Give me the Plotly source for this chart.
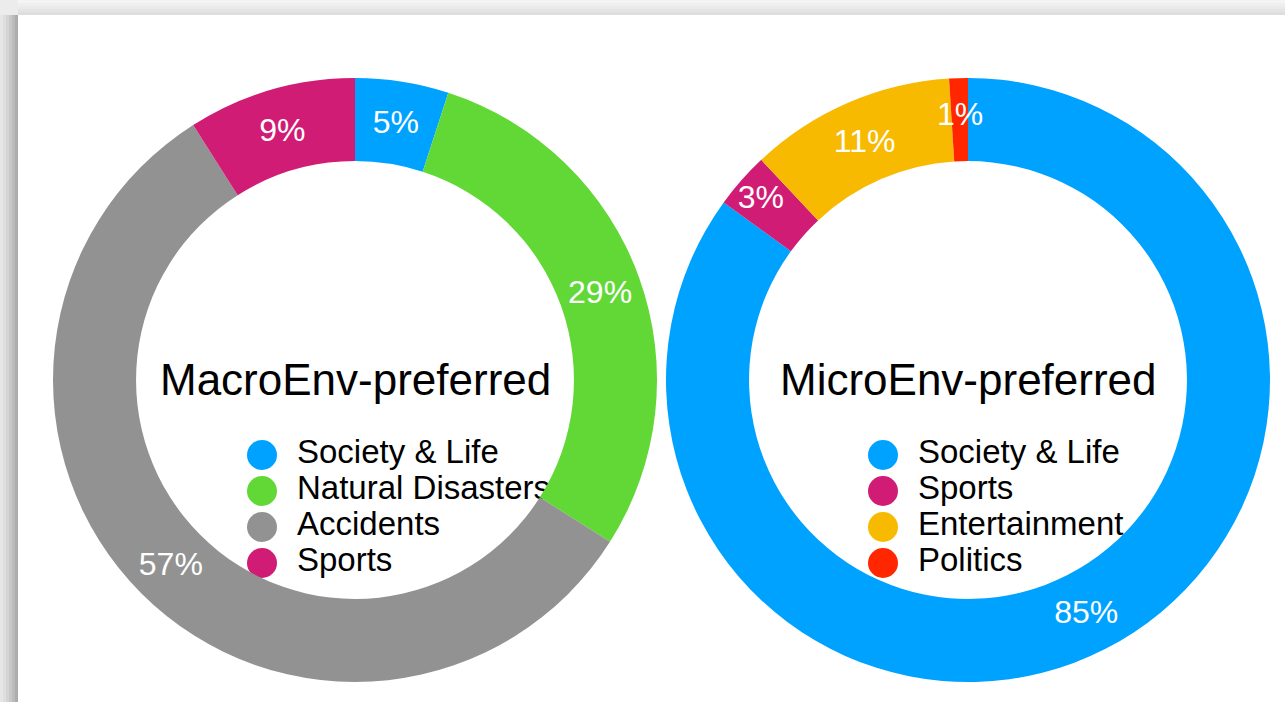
import math
import plotly.graph_objects as go

# ---- data ----
macro_labels = ["Society & Life", "Natural Disasters", "Accidents", "Sports"]
macro_values = [5, 29, 57, 9]
macro_colors = ["#00A2FF", "#61D836", "#929292", "#D01C74"]
macro_title = "MacroEnv-preferred"

micro_labels = ["Society & Life", "Sports", "Entertainment", "Politics"]
micro_values = [85, 3, 11, 1]
micro_colors = ["#00A2FF", "#D01C74", "#F8BA00", "#FF2600"]
micro_title = "MicroEnv-preferred"

W, H = 1285, 702
FONT = "Liberation Sans, Arial, Helvetica, sans-serif"
HOLE = 0.725


def px_x(p):
    return p / W


def px_y(p):
    return 1 - p / H


fig = go.Figure()

# donuts: (labels, values, colors, centre x px, centre y px, radius px)
donuts = [
    (macro_labels, macro_values, macro_colors, 355, 380, 302),
    (micro_labels, micro_values, micro_colors, 968, 380, 302),
]
for labels, values, colors, cx, cy, r in donuts:
    total = sum(values)
    # very thin slices get their label placed as an annotation on the ring
    texts = [f"{v}%" if v / total >= 0.02 else "" for v in values]
    fig.add_trace(go.Pie(
        labels=labels, values=values, sort=False, direction="clockwise",
        rotation=0, hole=HOLE,
        marker=dict(colors=colors, line=dict(width=0)),
        text=texts, textinfo="text", textposition="inside",
        insidetextorientation="horizontal",
        textfont=dict(family=FONT, size=32, color="white"),
        domain=dict(x=[px_x(cx - r), px_x(cx + r)], y=[px_y(cy + r), px_y(cy - r)]),
        showlegend=False, hoverinfo="label+percent",
    ))
    cum = 0
    rmid = r * (1 + HOLE) / 2 + 6
    for v in values:
        if v / total < 0.02:
            ang = 2 * math.pi * (cum + v / 2) / total
            fig.add_annotation(
                text=f"{v}%", xref="paper", yref="paper", showarrow=False,
                x=px_x(cx + rmid * math.sin(ang)), y=px_y(cy - rmid * math.cos(ang)),
                xanchor="center", yanchor="middle",
                font=dict(family=FONT, size=32, color="white"))
        cum += v

# custom legends (circle markers + labels) on hidden axes
legend_specs = [
    (macro_labels, macro_colors, 262, "x", "y", "xaxis", "yaxis"),
    (micro_labels, micro_colors, 883, "x2", "y2", "xaxis2", "yaxis2"),
]
for labels, colors, lx, xa, ya, xname, yname in legend_specs:
    fig.add_trace(go.Scatter(
        x=[0] * len(labels), y=labels, mode="markers",
        marker=dict(size=30, color=colors, line=dict(width=0)),
        xaxis=xa, yaxis=ya, showlegend=False, hoverinfo="skip",
    ))
    fig.add_trace(go.Scatter(
        x=[1] * len(labels), y=labels, mode="text", text=labels,
        textposition="middle right",
        textfont=dict(family=FONT, size=33, color="#000000"),
        xaxis=xa, yaxis=ya, showlegend=False, hoverinfo="skip",
    ))
    unit = 35
    fig.layout[xname] = dict(domain=[px_x(lx - unit), px_x(lx + 9 * unit)],
                             range=[-1, 9], visible=False, fixedrange=True)
    fig.layout[yname] = dict(domain=[px_y(581), px_y(437)], type="category",
                             categoryarray=labels, range=[3.5, -0.5],
                             visible=False, fixedrange=True)

# titles in the holes
for title, cx in [(macro_title, 355), (micro_title, 968)]:
    fig.add_annotation(text=title, x=px_x(cx), y=px_y(379), xref="paper",
                       yref="paper", showarrow=False, xanchor="center",
                       yanchor="middle",
                       font=dict(family=FONT, size=44, color="#000000"))

# card background with soft shadow at top/left
shapes = []
left_shades = ["#e6e6e6", "#dedede", "#d4d4d4", "#c8c8c8", "#bbbbbb", "#acacac"]
for i, c in enumerate(left_shades):
    shapes.append(dict(type="rect", xref="paper", yref="paper", layer="below",
                       x0=px_x(i * 3), x1=px_x(18), y0=0, y1=px_y(15),
                       fillcolor=c, line=dict(width=0)))
top_shades = ["#f4f4f4", "#efefef", "#eaeaea", "#e4e4e4", "#dedede"]
for i, c in enumerate(top_shades):
    shapes.append(dict(type="rect", xref="paper", yref="paper", layer="below",
                       x0=px_x(18), x1=1, y0=px_y(15), y1=px_y(i * 3),
                       fillcolor=c, line=dict(width=0)))
shapes.append(dict(type="rect", xref="paper", yref="paper", layer="below",
                   x0=px_x(18), x1=1, y0=0, y1=px_y(15),
                   fillcolor="#ffffff", line=dict(width=0)))

fig.update_layout(
    width=W, height=H, margin=dict(l=0, r=0, t=0, b=0),
    paper_bgcolor="#ececec", plot_bgcolor="rgba(0,0,0,0)",
    shapes=shapes,
    uniformtext=dict(minsize=32, mode="show"),
    font=dict(family=FONT),
)

fig.write_html("out.html",
               config={"displayModeBar": False},
               post_script="document.body.style.margin='0px';"
                           "document.body.style.overflow='hidden';")
